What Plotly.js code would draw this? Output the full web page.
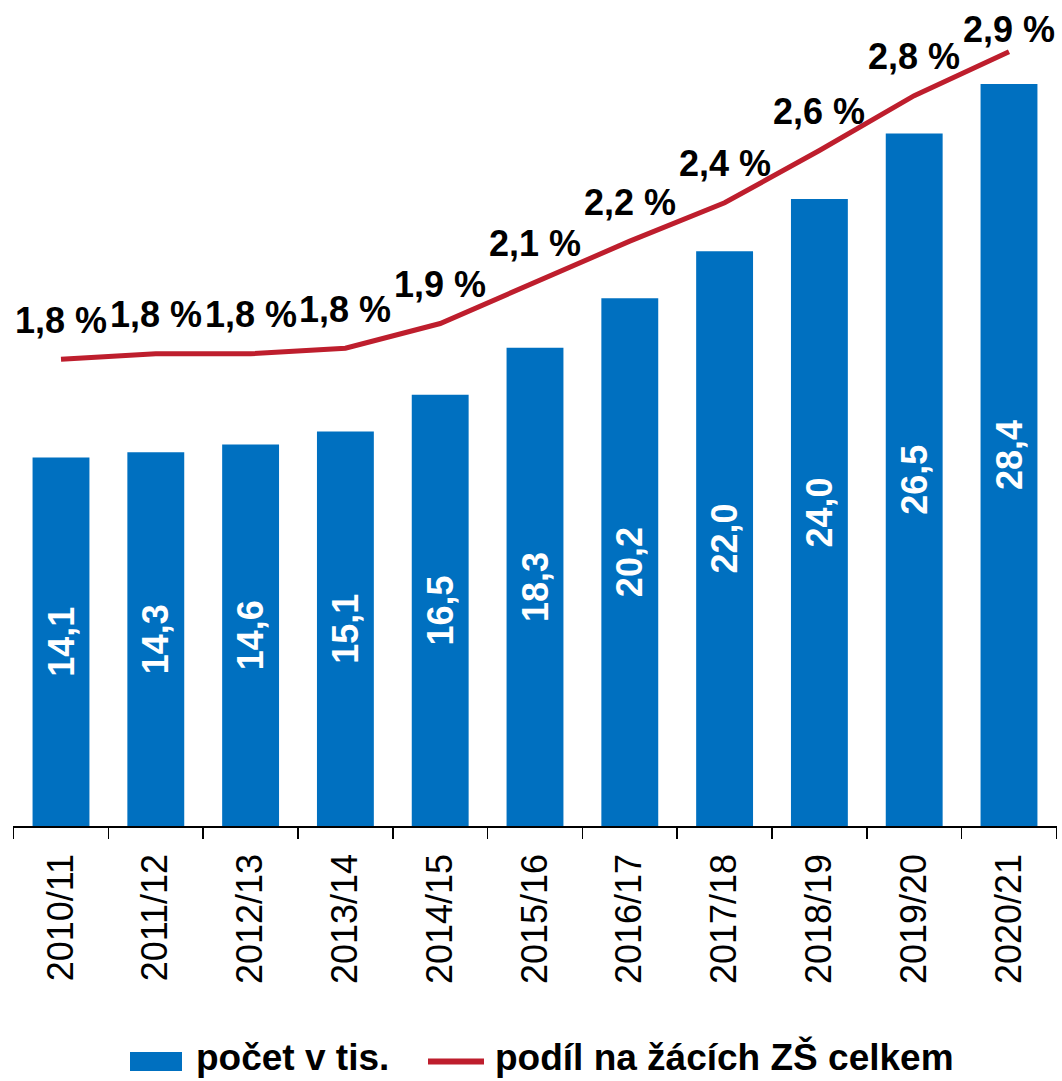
<!DOCTYPE html>
<html>
<head>
<meta charset="utf-8">
<script src="https://cdn.plot.ly/plotly-3.0.1.min.js"></script>
<style>html,body{margin:0;padding:0;background:#fff;}#chart{width:1062px;height:1081px;}</style>
</head>
<body>
<div id="chart"></div>
<script>
// ---- data ----
const years = ["2010/11","2011/12","2012/13","2013/14","2014/15","2015/16","2016/17","2017/18","2018/19","2019/20","2020/21"];
const pupilsThousands = [14.1, 14.3, 14.6, 15.1, 16.5, 18.3, 20.2, 22.0, 24.0, 26.5, 28.4];
const sharePercent = [1.80, 1.82, 1.82, 1.84, 1.93, 2.08, 2.23, 2.37, 2.56, 2.76, 2.92];
const seriesNames = ["počet v tis.", "podíl na žácích ZŠ celkem"];

// ---- styles ----
const BLUE = "#0070C0";
const RED = "#BE1E2D";
const FONT = "Liberation Sans, Arial, sans-serif";
const W = 1062, H = 1081;
const M = {l: 13, r: 5, t: 16, b: 255};
const Y2RANGE = [0.1, 3.05];

const bars = {
  type: "bar",
  x: years,
  y: pupilsThousands,
  name: seriesNames[0],
  marker: {color: BLUE},
  texttemplate: "%{y:.1f}",
  textposition: "inside",
  insidetextanchor: "middle",
  textangle: -90,
  textfont: {family: FONT, size: 36, color: "#ffffff", weight: "bold"},
  constraintext: "none",
  hoverinfo: "x+y",
  showlegend: false
};

const line = {
  type: "scatter",
  mode: "lines",
  x: years,
  y: sharePercent,
  yaxis: "y2",
  name: seriesNames[1],
  line: {color: RED, width: 5},
  cliponaxis: false,
  showlegend: false
};

// line value labels (annotations built from the arrays)
const plotH = H - M.t - M.b;
const plotW = W - M.l - M.r;
const annotations = years.map((yr, i) => {
  const v = sharePercent[i];
  const ypx = M.t + (Y2RANGE[1] - v) / (Y2RANGE[1] - Y2RANGE[0]) * plotH;
  const shift = Math.min(39, ypx - 30);
  return {
    x: yr, y: v, xref: "x", yref: "y2",
    text: v.toFixed(1).replace(".", ",") + " %",
    showarrow: false, yanchor: "middle", xanchor: "center", yshift: shift,
    font: {family: FONT, size: 36, color: "#000", weight: "bold"}
  };
});

// custom legend
const legY = 1061.5;
const legTextY = 1057;
const pyp = v => (H - M.b - v) / plotH;
const pxp = v => (v - M.l) / plotW;
const shapes = [
  {type: "rect", xref: "paper", yref: "paper",
   x0: pxp(130), x1: pxp(182), y0: pyp(1052), y1: pyp(1071),
   fillcolor: BLUE, line: {width: 0}},
  {type: "line", xref: "paper", yref: "paper",
   x0: pxp(428), x1: pxp(484), y0: pyp(legY), y1: pyp(legY),
   line: {color: RED, width: 6}}
];
annotations.push(
  {xref: "paper", yref: "paper", x: pxp(195), y: pyp(legTextY),
   xanchor: "left", yanchor: "middle", showarrow: false, text: seriesNames[0], borderpad: 0,
   font: {family: FONT, size: 37, color: "#000", weight: "bold"}},
  {xref: "paper", yref: "paper", x: pxp(494), y: pyp(legTextY),
   xanchor: "left", yanchor: "middle", showarrow: false, text: seriesNames[1], borderpad: 0,
   font: {family: FONT, size: 37, color: "#000", weight: "bold"}}
);

const layout = {
  width: W, height: H,
  margin: M,
  paper_bgcolor: "#fff", plot_bgcolor: "#fff",
  separators: ", ",
  bargap: 0.4,
  showlegend: false,
  font: {family: FONT, color: "#000"},
  xaxis: {
    type: "category",
    showline: true, linecolor: "#000", linewidth: 1.5,
    ticks: "outside", ticklen: 11, tickwidth: 1.5, tickcolor: "#000",
    tickson: "boundaries",
    tickangle: -90,
    tickfont: {family: FONT, size: 36, color: "#000"},
    ticklabelstandoff: 12,
    showgrid: false, zeroline: false, fixedrange: true
  },
  yaxis: {
    range: [0, 31], visible: false, showgrid: false, zeroline: false, fixedrange: true
  },
  yaxis2: {
    range: Y2RANGE, overlaying: "y", side: "right", visible: false,
    showgrid: false, zeroline: false, fixedrange: true
  },
  shapes: shapes,
  annotations: annotations
};

Plotly.newPlot("chart", [bars, line], layout, {displayModeBar: false, staticPlot: true});
</script>
</body>
</html>
